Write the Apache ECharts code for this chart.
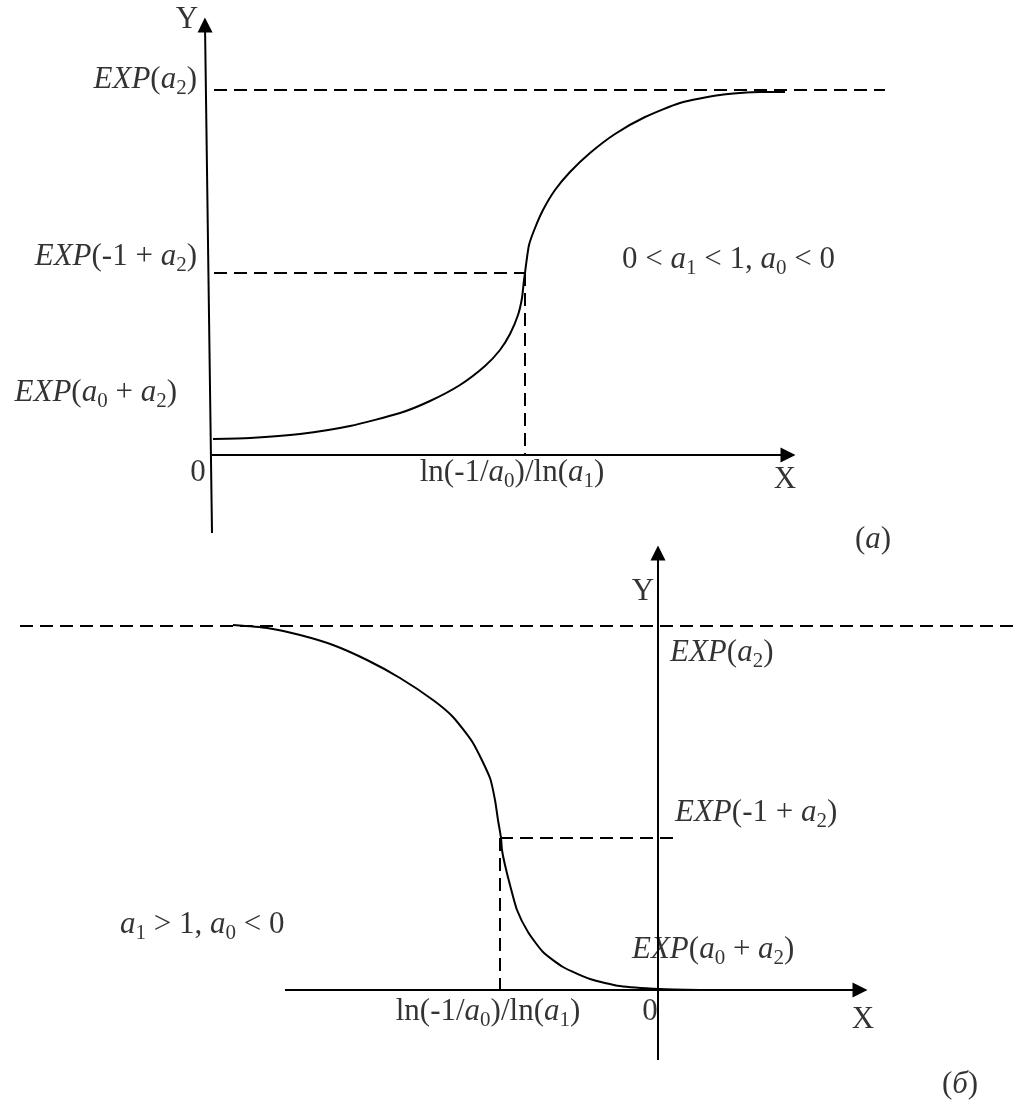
<!DOCTYPE html>
<html>
<head>
<meta charset="utf-8">
<script src="https://cdn.jsdelivr.net/npm/echarts@6/dist/echarts.min.js"></script>
<style>
  html, body { margin: 0; padding: 0; background: #ffffff; }
  #chart { width: 1025px; height: 1113px; }
</style>
</head>
<body>
<div id="chart"></div>
<script>
// Both panels use the same scale: 1 unit = 10 px, origin where the drawn axes cross.

// ---------- Panel (a): 0 < a1 < 1, a0 < 0 (rising curve) ----------
const curveA = [
  [0.1, 1.6], [3.8, 1.7], [8.8, 2.1], [13.8, 2.9], [18.8, 4.2], [21.8, 5.4],
  [24.8, 7.0], [27.3, 8.9], [28.8, 10.5], [29.8, 12.1], [30.6, 14.0],
  [31.0, 15.7], [31.2, 17.5], [31.3, 18.2],
  [31.4, 19.0], [31.7, 21.0], [32.3, 22.7], [33.1, 24.5], [34.3, 26.5],
  [35.8, 28.3], [37.8, 30.2], [40.3, 32.1], [43.3, 33.8], [46.8, 35.2],
  [50.8, 36.0], [54.8, 36.3], [57.3, 36.3]
];
const levelTopA = 36.5;          // EXP(a2)
const levelInflA = 18.2;         // EXP(-1 + a2)
const inflXA = 31.3;             // ln(-1/a0)/ln(a1)
const dashTopA = [[0.2, levelTopA], [67.3, levelTopA]];
const axisXA = [[0, 0], [57.6, 0]];
const axisYA = [[0, -7.8], [-0.7, 43]];

// ---------- Panel (б): a1 > 1, a0 < 0 (falling curve) ----------
const curveB = [
  [-42.5, 36.5], [-39.1, 36.2], [-35.8, 35.5], [-32.5, 34.5], [-29.1, 33.0],
  [-25.8, 31.2], [-22.5, 29.0], [-20.5, 27.3], [-18.5, 24.7], [-16.8, 21.2],
  [-16.3, 19.0], [-16.0, 17.0], [-15.7, 15.2],
  [-15.6, 14.0], [-15.3, 12.5], [-14.8, 10.5], [-14.1, 8.0], [-13.0, 5.8],
  [-11.5, 3.8], [-9.5, 2.3], [-6.8, 1.1], [-3.8, 0.4], [0.2, 0.1], [4.2, 0.0]
];
const levelTopB = 36.4;          // EXP(a2)
const levelInflB = 15.2;         // EXP(-1 + a2)
const inflXB = -15.8;            // ln(-1/a0)/ln(a1)
const dashTopB = [[-63.8, levelTopB], [36.7, levelTopB]];
const dashInflEndB = 1.5;
const axisXB = [[-37.3, 0], [20.2, 0]];
const axisYB = [[0, -7], [0, 43.7]];

// ---------- Text ----------
const FONT = 'Liberation Serif';
const FS = 31;
const LH = 38;
const richStyles = {
  i: { fontFamily: FONT, fontSize: FS, fontStyle: 'italic', lineHeight: LH, color: '#000' },
  s: { fontFamily: FONT, fontSize: 21, lineHeight: 21, verticalAlign: 'bottom', color: '#000' }
};
const labelsA = [
  { t: 'Y', at: [-2.5, 43.5], align: 'center' },
  { t: '{i|EXP}({i|a}{s|2})', at: [-1.5, 37.5], align: 'right' },
  { t: '{i|EXP}(-1 + {i|a}{s|2})', at: [-1.5, 19.8], align: 'right' },
  { t: '{i|EXP}({i|a}{s|0} + {i|a}{s|2})', at: [-3.5, 6.2], align: 'right' },
  { t: '0', at: [-1.4, -1.8], align: 'center' },
  { t: 'ln(-1/{i|a}{s|0})/ln({i|a}{s|1})', at: [30.0, -1.8], align: 'center' },
  { t: '0 < {i|a}{s|1} < 1, {i|a}{s|0} < 0', at: [41, 19.5], align: 'left' },
  { t: 'X', at: [57.3, -2.5], align: 'center' },
  { t: '({i|a})', at: [66.1, -8.5], align: 'center' }
];
const labelsB = [
  { t: 'Y', at: [-1.5, 39.8], align: 'center' },
  { t: '{i|EXP}({i|a}{s|2})', at: [1.2, 33.7], align: 'left' },
  { t: '{i|EXP}(-1 + {i|a}{s|2})', at: [1.7, 17.7], align: 'left' },
  { t: '{i|EXP}({i|a}{s|0} + {i|a}{s|2})', at: [-2.6, 4.0], align: 'left' },
  { t: '{i|a}{s|1} > 1, {i|a}{s|0} < 0', at: [-53.8, 6.5], align: 'left' },
  { t: 'ln(-1/{i|a}{s|0})/ln({i|a}{s|1})', at: [-17.0, -2.2], align: 'center' },
  { t: '0', at: [-0.8, -2.2], align: 'center' },
  { t: 'X', at: [20.5, -3.0], align: 'center' },
  { t: '({i|б})', at: [30.2, -9.5], align: 'center' }
];

const BLACK = '#000000';
const DASH = [13, 7];

function path(grid, pts, dashed, smooth) {
  return {
    type: 'line', xAxisIndex: grid, yAxisIndex: grid, data: pts,
    symbol: 'none', smooth: smooth || false,
    clip: false, silent: true, animation: false,
    lineStyle: { color: BLACK, width: 2, type: dashed ? DASH : 'solid' }
  };
}

function arrowAxis(grid, seg) {
  return {
    type: 'line', xAxisIndex: grid, yAxisIndex: grid, data: [],
    silent: true, animation: false,
    markLine: {
      silent: true, animation: false,
      symbol: ['none', 'triangle'], symbolSize: 15,
      label: { show: false },
      lineStyle: { color: BLACK, width: 2, type: 'solid' },
      itemStyle: { color: BLACK },
      data: [[{ coord: seg[0] }, { coord: seg[1] }]]
    }
  };
}

function textLayer(grid, list) {
  return {
    type: 'scatter', xAxisIndex: grid, yAxisIndex: grid,
    symbolSize: 1, itemStyle: { color: 'rgba(0,0,0,0)' },
    silent: true, animation: false,
    data: list.map(l => ({
      value: l.at,
      label: {
        show: true, position: 'inside', formatter: l.t,
        align: l.align, verticalAlign: 'middle',
        fontFamily: FONT, fontSize: FS, lineHeight: LH, color: BLACK,
        rich: richStyles
      }
    }))
  };
}

const chart = echarts.init(document.getElementById('chart'), null, { renderer: 'canvas' });
chart.setOption({
  backgroundColor: '#ffffff',
  animation: false,
  grid: [
    { left: 112, top: 5, width: 800, height: 600 },
    { left: 8, top: 530, width: 1010, height: 580 }
  ],
  xAxis: [
    { type: 'value', gridIndex: 0, min: -10, max: 70, show: false },
    { type: 'value', gridIndex: 1, min: -65, max: 36, show: false }
  ],
  yAxis: [
    { type: 'value', gridIndex: 0, min: -15, max: 45, show: false },
    { type: 'value', gridIndex: 1, min: -12, max: 46, show: false }
  ],
  series: [
    // panel (a)
    path(0, dashTopA, true),
    path(0, [[0.2, levelInflA], [inflXA, levelInflA]], true),
    path(0, [[inflXA, levelInflA], [inflXA, 0]], true),
    arrowAxis(0, axisXA),
    arrowAxis(0, axisYA),
    path(0, curveA, false, 0.2),
    textLayer(0, labelsA),
    // panel (б)
    path(1, dashTopB, true),
    path(1, [[inflXB, levelInflB], [dashInflEndB, levelInflB]], true),
    path(1, [[inflXB, levelInflB], [inflXB, 0]], true),
    arrowAxis(1, axisXB),
    arrowAxis(1, axisYB),
    path(1, curveB, false, 0.2),
    textLayer(1, labelsB)
  ]
});
</script>
</body>
</html>
